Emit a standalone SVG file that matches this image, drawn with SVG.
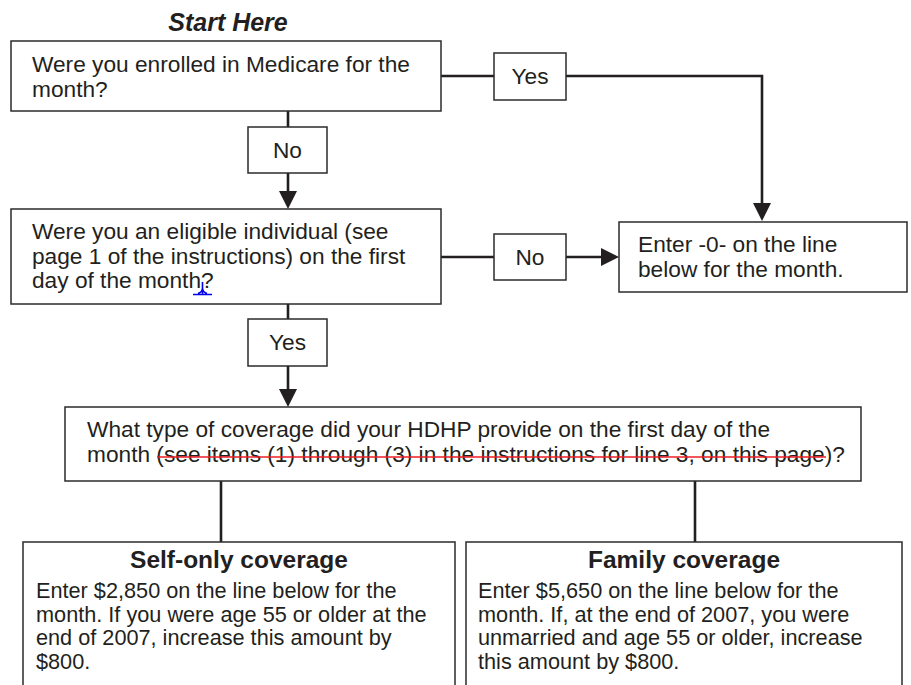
<svg xmlns="http://www.w3.org/2000/svg" width="911" height="685" viewBox="0 0 911 685">
<style>
  .box { fill: #ffffff; stroke: #2b2b2b; stroke-width: 1.5; }
  .conn { fill: none; stroke: #231f20; stroke-width: 2.6; }
  .t { font-family: "Liberation Sans", Arial, Helvetica, sans-serif; font-size: 22.7px; fill: #231f20; }
  .b { font-family: "Liberation Sans", Arial, Helvetica, sans-serif; font-size: 21.7px; fill: #231f20; }
  .lbl { text-anchor: middle; }
  .h { font-family: "Liberation Sans", Arial, Helvetica, sans-serif; font-size: 24.5px; font-weight: bold; fill: #231f20; text-anchor: middle; }
  .title { font-family: "Liberation Sans", Arial, Helvetica, sans-serif; font-size: 25px; font-weight: bold; font-style: italic; fill: #231f20; text-anchor: middle; }
  .strike { stroke: #ee1c24; stroke-width: 1.6; fill: none; }
  .caret { stroke: #0000ee; stroke-width: 1.6; fill: none; }
</style>
<defs>
  <marker id="ah" markerUnits="userSpaceOnUse" markerWidth="18" markerHeight="18" refX="8" refY="9" orient="auto">
    <path d="M0,0 L18,9 L0,18 z" fill="#231f20"/>
  </marker>
</defs>
<rect width="911" height="685" fill="#ffffff"/>

<text class="title" x="228" y="31">Start Here</text>

<g id="connectors">
  <line class="conn" x1="441" y1="76" x2="494" y2="76"/>
  <polyline class="conn" points="566,76 762,76 762,211" marker-end="url(#ah)"/>
  <line class="conn" x1="441" y1="257" x2="494" y2="257"/>
  <line class="conn" x1="566" y1="257" x2="609" y2="257" marker-end="url(#ah)"/>
  <line class="conn" x1="288" y1="111" x2="288" y2="127"/>
  <line class="conn" x1="288" y1="173" x2="288" y2="199" marker-end="url(#ah)"/>
  <line class="conn" x1="288" y1="304" x2="288" y2="319"/>
  <line class="conn" x1="288" y1="366" x2="288" y2="397" marker-end="url(#ah)"/>
  <line class="conn" x1="221" y1="481" x2="221" y2="542"/>
  <line class="conn" x1="695" y1="481" x2="695" y2="542"/>
</g>

<g id="q1">
  <rect class="box" x="11" y="41" width="430" height="70"/>
  <text class="t" x="32" y="72">Were you enrolled in Medicare for the</text>
  <text class="t" x="32" y="97">month?</text>
</g>

<g id="yes1">
  <rect class="box" x="494" y="53" width="72" height="47"/>
  <text class="t lbl" x="530" y="84">Yes</text>
</g>

<g id="no1">
  <rect class="box" x="248" y="127" width="79" height="46"/>
  <text class="t lbl" x="287.5" y="158">No</text>
</g>

<g id="q2">
  <rect class="box" x="11" y="209" width="430" height="95"/>
  <text class="t" x="32" y="239">Were you an eligible individual (see</text>
  <text class="t" x="32" y="264">page 1 of the instructions) on the first</text>
  <text class="t" x="32" y="288">day of the month?</text>
  <path class="caret" d="M202.5,282 V294 M193,294.5 H212 M198,293.5 Q202.5,292 202.5,288 Q202.5,292 207,293.5"/>
</g>

<g id="no2">
  <rect class="box" x="494" y="234" width="72" height="46"/>
  <text class="t lbl" x="530" y="265">No</text>
</g>

<g id="zero">
  <rect class="box" x="619" y="222" width="288" height="70"/>
  <text class="t" x="638" y="252">Enter -0- on the line</text>
  <text class="t" x="638" y="277">below for the month.</text>
</g>

<g id="yes2">
  <rect class="box" x="248" y="319" width="79" height="47"/>
  <text class="t lbl" x="287.5" y="350">Yes</text>
</g>

<g id="q3">
  <rect class="box" x="65" y="407" width="796" height="74"/>
  <text class="t" x="87" y="437">What type of coverage did your HDHP provide on the first day of the</text>
  <text class="t" x="87" y="462">month (see items (1) through (3) in the instructions for line 3, on this page)?</text>
  <line class="strike" x1="157" y1="457" x2="826" y2="457"/>
</g>

<g id="self">
  <rect class="box" x="23" y="542" width="432" height="170"/>
  <text class="h" x="239" y="568">Self-only coverage</text>
  <text class="b" x="36" y="598">Enter $2,850 on the line below for the</text>
  <text class="b" x="36" y="621.5">month. If you were age 55 or older at the</text>
  <text class="b" x="36" y="645">end of 2007, increase this amount by</text>
  <text class="b" x="36" y="668.5">$800.</text>
</g>

<g id="family">
  <rect class="box" x="466" y="542" width="436" height="170"/>
  <text class="h" x="684" y="568">Family coverage</text>
  <text class="b" x="478" y="598">Enter $5,650 on the line below for the</text>
  <text class="b" x="478" y="621.5">month. If, at the end of 2007, you were</text>
  <text class="b" x="478" y="645">unmarried and age 55 or older, increase</text>
  <text class="b" x="478" y="668.5">this amount by $800.</text>
</g>
</svg>
